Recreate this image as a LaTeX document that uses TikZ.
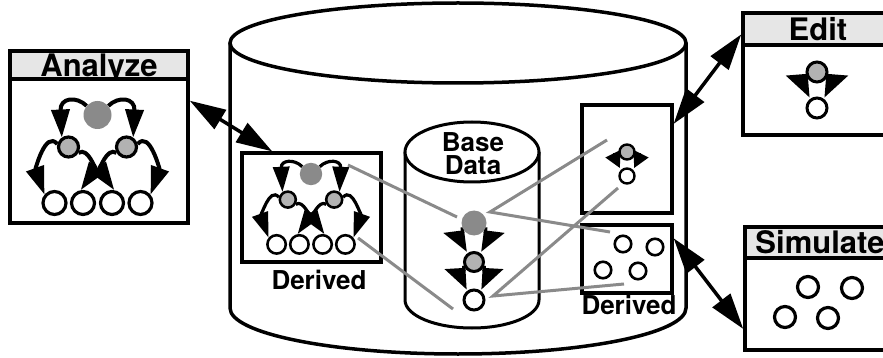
\documentclass[tikz,border=0pt]{standalone}
\usepackage{fontspec}
\setmainfont{TeX Gyre Heros}
\usetikzlibrary{arrows.meta}
\pgfdeclarelayer{front}
\pgfsetlayers{main,front}
\definecolor{dotdark}{HTML}{8A8A8A}
\definecolor{dotlight}{HTML}{B2B2B2}
\definecolor{linkgray}{HTML}{8A8A8A}
\definecolor{headfill}{HTML}{E6E6E6}
\tikzset{
  outline/.style={line width=3.5pt},
  panel/.style={draw, line width=3.5pt, fill=white, inner sep=0pt},
  headbox/.style={draw, line width=3.5pt, fill=headfill, inner sep=0pt,
    font=\fontsize{31}{31}\selectfont\bfseries, text height=22.3pt, text depth=0pt},
  tagtext/.style={font=\fontsize{26}{23}\selectfont\bfseries, inner sep=0pt},
  darkdot/.style={circle, fill=dotdark, inner sep=0pt},
  greydot/.style={circle, draw, fill=dotlight, inner sep=0pt},
  whitedot/.style={circle, draw, fill=white, inner sep=0pt},
  link/.style={draw=linkgray, line width=3pt},
  biarrow/.style={line width=3.5pt,
    {Triangle[length=36pt,width=22pt]}-{Triangle[length=36pt,width=22pt]}},
}
% a two-level tree of dots: #1 name prefix, #2/#3 position of the root, #4 scale
\newcommand\drawtree[4]{%
  \pgfmathsetmacro\tdA{28*#4}%
  \pgfmathsetmacro\tdB{20*#4}%
  \pgfmathsetmacro\tdC{23*#4}%
  \pgfmathsetmacro\tlw{3.2*#4}%
  \pgfmathsetmacro\tal{4*#4}%
  \pgfmathsetmacro\talen{28*(#4+1)/2}%
  \pgfmathsetmacro\tawid{18*(#4+1)/2}%
  \begin{scope}[shift={(#2,#3)}, scale=#4]
    \begin{pgfonlayer}{front}
      \node[darkdot, minimum size=\tdA pt] (#1T) at (0,0) {};
      \node[greydot, line width=\tlw pt, minimum size=\tdB pt] (#1L) at (-29,32) {};
      \node[greydot, line width=\tlw pt, minimum size=\tdB pt] (#1R) at (29,32) {};
      \node[whitedot, line width=\tlw pt, minimum size=\tdC pt] (#1B1) at (-43,88) {};
      \node[whitedot, line width=\tlw pt, minimum size=\tdC pt] (#1B2) at (-14.5,88) {};
      \node[whitedot, line width=\tlw pt, minimum size=\tdC pt] (#1B3) at (14.5,88) {};
      \node[whitedot, line width=\tlw pt, minimum size=\tdC pt] (#1B4) at (43,88) {};
    \end{pgfonlayer}
    \begin{scope}[line width=\tal pt, -{Triangle[length=\talen pt, width=\tawid pt]}]
      \draw (#1T.140) .. controls +(-10,-10) and +(-2,-40) .. (#1L.125);
      \draw (#1T.40) .. controls +(10,-10) and +(2,-40) .. (#1R.55);
      \draw (#1L.165) .. controls +(-12,-14) and +(-9,-25) .. (#1B1.140);
      \draw (#1L.-30) .. controls +(10,-6) and +(14,-20) .. (#1B2.100);
      \draw (#1R.210) .. controls +(-10,-6) and +(-14,-20) .. (#1B3.80);
      \draw (#1R.15) .. controls +(12,-14) and +(9,-25) .. (#1B4.40);
    \end{scope}
  \end{scope}}
% a parent dot above a child dot, joined by a straight arrow down each side
% with a half head on the outer side: #1 parent, #2 child, #3 line width,
% #4 head length, #5 head width
\newcommand\sidearrows[5]{%
  \draw[line width=#3pt, shorten >=3pt, -{Triangle[harpoon, swap, length=#4pt, width=#5pt]}]
    (#1.200) -- (#2.140);
  \draw[line width=#3pt, shorten >=3pt, -{Triangle[harpoon, length=#4pt, width=#5pt]}]
    (#1.-20) -- (#2.40);}
% the same pair drawn small, heads turned outwards
\newcommand\smallsidearrows[6]{%
  \begin{scope}[line width=#3pt, -{Triangle[length=#4pt,width=#5pt]}, shorten >=2pt]
    \draw (#1.200) .. controls +(-0.1*#6,0.2*#6) and +(-0.5*#6,-#6) .. (#2.135);
    \draw (#1.-20) .. controls +(0.1*#6,0.2*#6) and +(0.5*#6,-#6) .. (#2.45);
  \end{scope}}
\begin{document}
\begin{tikzpicture}[x=1pt, y=-1pt]
\useasboundingbox[fill=white] (0,0) rectangle (883,358);

% the outer store
\draw[outline, fill=white] (230,43) -- (230,308)
  arc[start angle=180, end angle=0, x radius=228, y radius=46] -- (686,43);
\draw[outline, fill=white] (458,43) ellipse[x radius=228, y radius=40];

% tool panels
\node[headbox, minimum width=178pt, minimum height=28pt] (anaHead) at (99,65) {Analyze};
\node[panel, minimum width=178pt, minimum height=144pt] (anaBody) at (99,151) {};
\node[headbox, minimum width=150pt, minimum height=32pt] (editHead) at (818,29) {Edit};
\node[panel, minimum width=150pt, minimum height=90pt] (editBody) at (818,90) {};
\node[headbox, minimum width=150pt, minimum height=31pt] (simHead) at (820,242.5) {Simulate};
\node[panel, minimum width=150pt, minimum height=92pt] (simBody) at (820,304) {};

% derived views inside the store
\node[panel, line width=3.2pt, minimum width=139pt, minimum height=109pt] (derBox) at (311.5,207.5) {};
\node[panel, line width=3.2pt, minimum width=90pt, minimum height=108pt] (edBox) at (627,159) {};
\node[panel, line width=3.2pt, minimum width=90pt, minimum height=68pt] (simBox) at (627,259) {};
\node[tagtext] (derText) at (319,280) {Derived};
\node[tagtext] (derText2) at (629,305) {Derived};

% base data cylinder
\draw[line width=3pt, fill=white] (405,152) -- (405,300)
  arc[start angle=180, end angle=0, x radius=67, y radius=28] -- (539,152);
\draw[line width=3pt, fill=white] (472,152) ellipse[x radius=67, y radius=30];
\node[tagtext, align=center] (baseText) at (473,154) {Base\\Data};

% trees
\drawtree{ana}{97.5}{115}{1}
\drawtree{der}{311}{174}{0.8}

\begin{pgfonlayer}{front}
  % base data chain
  \node[darkdot, minimum size=25pt] (bT) at (474,223) {};
  \node[greydot, line width=3pt, minimum size=19pt] (bM) at (474,262) {};
  \node[whitedot, line width=3pt, minimum size=20pt] (bB) at (474,300) {};
  % edit view pair
  \node[greydot, line width=2.4pt, minimum size=15pt] (sT) at (627,152) {};
  \node[whitedot, line width=2.4pt, minimum size=15pt] (sW) at (627,176) {};
  % edit tool pair
  \node[greydot, line width=3pt, minimum size=20pt] (eT) at (817,72) {};
  \node[whitedot, line width=3pt, minimum size=20pt] (eW) at (817,108) {};
  % simulation dots
  \node[whitedot, line width=2.6pt, minimum size=16.5pt] (m1) at (623,244) {};
  \node[whitedot, line width=2.6pt, minimum size=16.5pt] (m2) at (655,247) {};
  \node[whitedot, line width=2.6pt, minimum size=16.5pt] (m3) at (603,270) {};
  \node[whitedot, line width=2.6pt, minimum size=16.5pt] (m4) at (638,271) {};
  \node[whitedot, line width=3.2pt, minimum size=21pt] (n1) at (808,287) {};
  \node[whitedot, line width=3.2pt, minimum size=21pt] (n2) at (852,288) {};
  \node[whitedot, line width=3.2pt, minimum size=21pt] (n3) at (785,317) {};
  \node[whitedot, line width=3.2pt, minimum size=21pt] (n4) at (828,318) {};
\end{pgfonlayer}

\sidearrows{bT}{bM}{3.2}{20}{38}
\sidearrows{bM}{bB}{3.2}{20}{38}
\sidearrows{eT}{eW}{3.2}{22}{40}
\smallsidearrows{sT}{sW}{2.4}{16}{16}{17}

% links from the base data to the derived views
\coordinate (lk1a) at (348,165); \coordinate (lk1b) at (457,217);
\coordinate (lk2a) at (358,238); \coordinate (lk2b) at (453,309);
\coordinate (lk3a) at (490,212); \coordinate (lk3b) at (607,140);
\coordinate (lk4b) at (610,232);
\coordinate (lk5a) at (493,296); \coordinate (lk5b) at (618,188);
\coordinate (lk6b) at (624,284);
\draw[link] (lk1a) -- (lk1b);
\draw[link] (lk2a) -- (lk2b);
\draw[link] (lk3b) -- (lk3a) -- (lk4b);
\draw[link] (lk5b) -- (lk5a) -- (lk6b);

% tool <-> view connections
\draw[biarrow] (anaBody.29) -- (derBox.125);
\draw[biarrow] (editHead.184) -- (edBox.37);
\draw[biarrow] (simBox.24) -- (simBody.198);
\end{tikzpicture}
\end{document}
